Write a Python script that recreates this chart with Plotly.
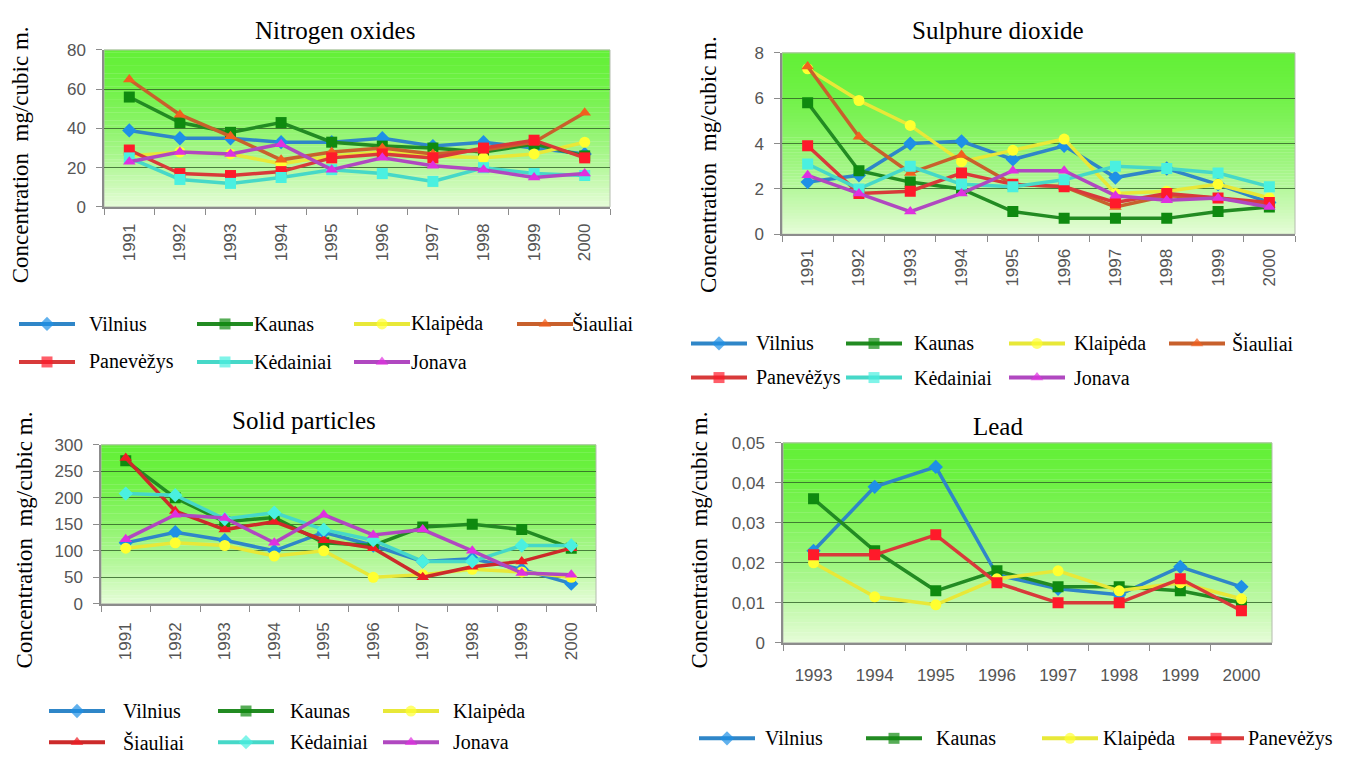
import plotly.graph_objects as go

W, H = 1345, 761

# ---------------- data ----------------
years = ["1991", "1992", "1993", "1994", "1995", "1996", "1997", "1998", "1999", "2000"]
years_lead = ["1993", "1994", "1995", "1996", "1997", "1998", "1999", "2000"]

# Nitrogen oxides
no_vilnius = [39, 35, 35, 33, 33, 35, 31, 33, 30, 27]
no_kaunas = [56, 43, 38, 43, 33, 31, 30, 28, 32, 26]
no_klaipeda = [26, 28, 27, 22, 26, 28, 26, 25, 27, 33]
no_siauliai = [65, 47, 36, 24, 28, 30, 27, 29, 33, 48]
no_panevezys = [29, 17, 16, 18, 25, 27, 25, 30, 34, 25]
no_kedainiai = [25, 14, 12, 15, 19, 17, 13, 20, 17, 16]
no_jonava = [23, 28, 27, 32, 19, 25, 21, 19, 15, 17]

# Sulphure dioxide
so_vilnius = [2.3, 2.6, 4.0, 4.1, 3.3, 3.9, 2.5, 2.9, 2.2, 1.4]
so_kaunas = [5.8, 2.8, 2.3, 2.0, 1.0, 0.7, 0.7, 0.7, 1.0, 1.2]
so_klaipeda = [7.3, 5.9, 4.8, 3.2, 3.7, 4.2, 1.8, 1.9, 2.2, 1.6]
so_siauliai = [7.4, 4.3, 2.7, 3.5, 2.2, 2.1, 1.2, 1.7, 1.6, 1.3]
so_panevezys = [3.9, 1.8, 1.9, 2.7, 2.2, 2.1, 1.4, 1.8, 1.6, 1.4]
so_kedainiai = [3.1, 2.0, 3.0, 2.2, 2.1, 2.4, 3.0, 2.9, 2.7, 2.1]
so_jonava = [2.6, 1.8, 1.0, 1.8, 2.8, 2.8, 1.7, 1.5, 1.6, 1.2]

# Solid particles
sp_vilnius = [115, 135, 120, 100, 135, 110, 80, 85, 65, 38]
sp_kaunas = [270, 200, 155, 163, 115, 110, 145, 150, 140, 105]
sp_klaipeda = [105, 115, 110, 90, 100, 50, 55, 65, 60, 50]
sp_siauliai = [275, 175, 140, 155, 120, 105, 50, 70, 80, 105]
sp_kedainiai = [208, 205, 160, 172, 140, 120, 80, 80, 110, 110]
sp_jonava = [122, 168, 162, 115, 168, 130, 140, 100, 58, 55]

# Lead
pb_vilnius = [0.023, 0.039, 0.044, 0.017, 0.0135, 0.012, 0.019, 0.014]
pb_kaunas = [0.036, 0.023, 0.013, 0.018, 0.014, 0.014, 0.013, 0.010]
pb_klaipeda = [0.020, 0.0115, 0.0095, 0.016, 0.018, 0.013, 0.015, 0.011]
pb_panevezys = [0.022, 0.022, 0.027, 0.015, 0.010, 0.010, 0.016, 0.008]

# ---------------- styles ----------------
STYLE = {
    "Vilnius": dict(line="#2f86c8", marker="#1e90e6", symbol="diamond"),
    "Kaunas": dict(line="#228b22", marker="#0f8a0f", symbol="square"),
    "Klaipėda": dict(line="#e8e838", marker="#ffff30", symbol="circle"),
    "Šiauliai": dict(line="#c8602c", marker="#f2601e", symbol="triangle-up"),
    "Panevėžys": dict(line="#d83a3a", marker="#ff1a2a", symbol="square"),
    "Kėdainiai": dict(line="#46d8c8", marker="#4af0e0", symbol="square"),
    "Jonava": dict(line="#b048c0", marker="#e030e0", symbol="triangle-up"),
}
STYLE_SP = dict(STYLE)
STYLE_SP["Šiauliai"] = dict(line="#cc2a2a", marker="#ee1c24", symbol="triangle-up")
STYLE_SP["Kėdainiai"] = dict(line="#46d8c8", marker="#4af0e0", symbol="diamond")

SERIF = "Times New Roman, Liberation Serif, Tinos, DejaVu Serif, Noto Serif, serif"
SANS = "Liberation Sans"

panels = [
    dict(title="Nitrogen oxides", cats=years,
         series=[("Vilnius", no_vilnius), ("Kaunas", no_kaunas), ("Klaipėda", no_klaipeda),
                 ("Šiauliai", no_siauliai), ("Panevėžys", no_panevezys),
                 ("Kėdainiai", no_kedainiai), ("Jonava", no_jonava)],
         style=STYLE, yrange=[0, 80], yticks=[0, 20, 40, 60, 80],
         yticktext=["0", "20", "40", "60", "80"], angle=-90, xstand=8,
         box=(104, 610, 42, 203), title_xy=(335, 22), ytitle_xy=(20, 150),
         legend_rows=[323, 362], legend_cols=[(19, 87), (197, 252), (354, 409), (517, 570)]),
    dict(title="Sulphure dioxide", cats=years,
         series=[("Vilnius", so_vilnius), ("Kaunas", so_kaunas), ("Klaipėda", so_klaipeda),
                 ("Šiauliai", so_siauliai), ("Panevėžys", so_panevezys),
                 ("Kėdainiai", so_kedainiai), ("Jonava", so_jonava)],
         style=STYLE, yrange=[0, 8], yticks=[0, 2, 4, 6, 8],
         yticktext=["0", "2", "4", "6", "8"], angle=-90, xstand=6,
         box=(782, 1295, 45, 231), title_xy=(998, 22), ytitle_xy=(708, 160),
         legend_rows=[343, 378], legend_cols=[(691, 754), (846, 912), (1009, 1072), (1169, 1230)]),
    dict(title="Solid particles", cats=years,
         series=[("Vilnius", sp_vilnius), ("Kaunas", sp_kaunas), ("Klaipėda", sp_klaipeda),
                 ("Šiauliai", sp_siauliai), ("Kėdainiai", sp_kedainiai), ("Jonava", sp_jonava)],
         style=STYLE_SP, yrange=[0, 300], yticks=[0, 50, 100, 150, 200, 250, 300],
         yticktext=["0", "50", "100", "150", "200", "250", "300"], angle=-90, xstand=10,
         box=(101, 596, 447, 610), title_xy=(304, 422), ytitle_xy=(24, 545),
         legend_rows=[720, 752], legend_cols=[(49, 121), (218, 288), (383, 451)]),
    dict(title="Lead", cats=years_lead,
         series=[("Vilnius", pb_vilnius), ("Kaunas", pb_kaunas), ("Klaipėda", pb_klaipeda),
                 ("Panevėžys", pb_panevezys)],
         style=STYLE, yrange=[0, 0.05], yticks=[0, 0.01, 0.02, 0.03, 0.04, 0.05],
         yticktext=["0", "0,01", "0,02", "0,03", "0,04", "0,05"], angle=0, xstand=16,
         box=(783, 1272, 445, 650), title_xy=(998, 428), ytitle_xy=(699, 545),
         legend_rows=[748], legend_cols=[(699, 763), (866, 934), (1042, 1101), (1188, 1246)]),
]

GREEN_TOP = (100, 240, 56)
GREEN_BOTTOM = (230, 252, 216)


def mix(t):
    f = t ** 1.6
    r, g, b = (round(a + (c - a) * f) for a, c in zip(GREEN_TOP, GREEN_BOTTOM))
    return f"rgb({r},{g},{b})"


fig = go.Figure()
layout = dict(width=W, height=H, margin=dict(l=0, r=0, t=0, b=0), autosize=False,
              paper_bgcolor="white", plot_bgcolor="rgba(0,0,0,0)", showlegend=False,
              font=dict(family=SERIF))
shapes, annotations = [], []
tickfont = dict(family=SANS, size=17, color="#555555")

for i, p in enumerate(panels, start=1):
    sfx = "" if i == 1 else str(i)
    x0, x1, y0, y1 = p["box"]
    n = len(p["cats"])
    layout[f"xaxis{sfx}"] = dict(
        domain=[x0 / W, x1 / W], anchor=f"y{sfx}", type="category",
        range=[-0.5, n - 0.5], tickangle=p["angle"], showgrid=False,
        showline=True, linecolor="#8c8c8c", linewidth=1.5,
        ticks="outside", tickson="boundaries", ticklen=6, tickcolor="#8c8c8c",
        ticklabelstandoff=p["xstand"], tickfont=tickfont, fixedrange=True)
    layout[f"yaxis{sfx}"] = dict(
        domain=[1 - y1 / H, 1 - y0 / H], anchor=f"x{sfx}", range=p["yrange"],
        tickvals=p["yticks"], ticktext=p["yticktext"], showgrid=True,
        gridcolor="rgba(45,95,35,0.8)", gridwidth=1.4, zeroline=False,
        showline=True, linecolor="#8c8c8c", linewidth=1.5,
        ticks="outside", ticklen=6, tickcolor="#8c8c8c", ticklabelstandoff=7,
        tickfont=tickfont, fixedrange=True)

    # vertical gradient behind each plot area
    bands = 60
    for k in range(bands):
        shapes.append(dict(type="rect", xref=f"x{sfx} domain", yref=f"y{sfx} domain",
                           x0=0, x1=1, y0=1 - (k + 1) / bands, y1=1 - k / bands + 0.002,
                           fillcolor=mix((k + 0.5) / bands), line=dict(width=0),
                           layer="below"))
    shapes.append(dict(type="rect", xref=f"x{sfx} domain", yref=f"y{sfx} domain",
                       x0=0, x1=1, y0=0, y1=1, fillcolor="rgba(0,0,0,0)",
                       line=dict(color="#b4bcae", width=1), layer="below"))

    for name, vals in p["series"]:
        st = p["style"][name]
        fig.add_trace(go.Scatter(
            x=p["cats"], y=vals, xaxis=f"x{sfx}", yaxis=f"y{sfx}", name=name,
            mode="lines+markers", line=dict(color=st["line"], width=3.5),
            marker=dict(symbol=st["symbol"], size=11, color=st["marker"],
                        line=dict(width=0)), showlegend=False))

    tx, ty = p["title_xy"]
    annotations.append(dict(x=tx, y=ty, xref="x5", yref="y5", text=p["title"],
                            showarrow=False, xanchor="center", yanchor="middle",
                            font=dict(family=SERIF, size=25, color="black")))
    ax, ay = p["ytitle_xy"]
    annotations.append(dict(x=ax, y=ay, xref="x5", yref="y5",
                            text="Concentration  mg/cubic m.", textangle=-90,
                            showarrow=False, xanchor="center", yanchor="middle",
                            font=dict(family=SERIF, size=23, color="black")))

    # legend keys drawn under each chart
    ncols = len(p["legend_cols"])
    for j, (name, _) in enumerate(p["series"]):
        row = p["legend_rows"][j // ncols]
        lx, tx_ = p["legend_cols"][j % ncols]
        st = p["style"][name]
        fig.add_trace(go.Scatter(
            x=[lx, lx + 28, lx + 56], y=[row, row, row], xaxis="x5", yaxis="y5",
            mode="lines+markers", line=dict(color=st["line"], width=4),
            marker=dict(symbol=st["symbol"], size=[0, 11, 0], color=st["marker"],
                        line=dict(width=0)), showlegend=False, hoverinfo="skip"))
        annotations.append(dict(x=tx_, y=row, xref="x5", yref="y5", text=name,
                                showarrow=False, xanchor="left", yanchor="middle",
                                font=dict(family=SERIF, size=20, color="black")))

layout["xaxis5"] = dict(domain=[0, 1], range=[0, W], visible=False, fixedrange=True,
                        anchor="y5")
layout["yaxis5"] = dict(domain=[0, 1], range=[H, 0], visible=False, fixedrange=True,
                        anchor="x5")
layout["shapes"] = shapes
layout["annotations"] = annotations
fig.update_layout(**layout)
fig.write_html("out.html")
